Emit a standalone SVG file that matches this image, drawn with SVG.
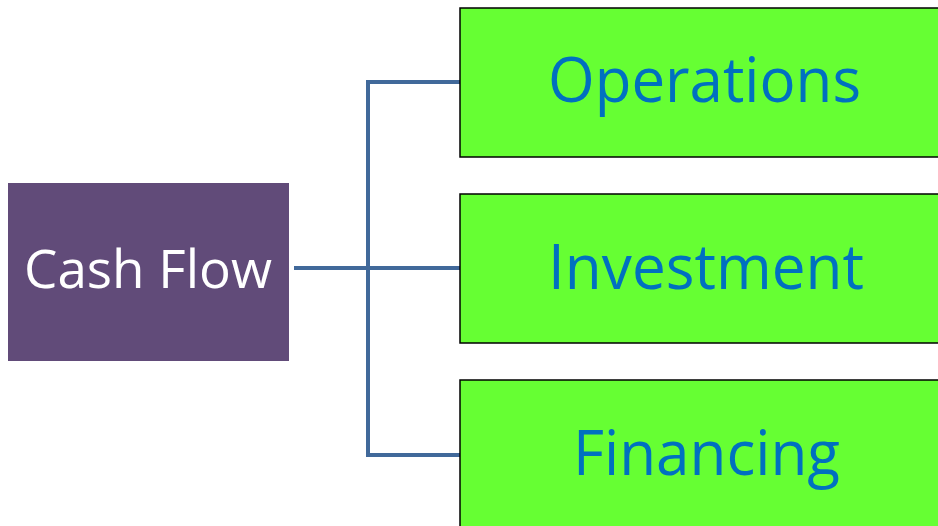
<svg xmlns="http://www.w3.org/2000/svg" width="938" height="526" viewBox="0 0 938 526">
<style>
.conn{fill:none;stroke:#41699A;stroke-width:4;stroke-linejoin:miter}
.green{fill:#66FF33;stroke:#000;stroke-width:1.5}
.gt{font-family:"Open Sans","Noto Sans",sans-serif;font-size:62px;fill:#0070C0}
.wt{font-family:"Open Sans","Noto Sans",sans-serif;font-size:53px;fill:#FFFFFF}
</style>
<rect width="938" height="526" fill="#FFFFFF"/>
<g id="connectors">
<path class="conn" d="M294 268H461"/>
<path class="conn" d="M461 82H368V455H461"/>
</g>
<g id="cashflow">
<rect x="8" y="183" width="281" height="178" fill="#614B79"/>
<text class="wt" x="24" y="288" textLength="248" lengthAdjust="spacingAndGlyphs">Cash Flow</text>
</g>
<g id="operations">
<rect class="green" x="460" y="8" width="490" height="149"/>
<text class="gt" x="548" y="102" textLength="313" lengthAdjust="spacingAndGlyphs">Operations</text>
</g>
<g id="investment">
<rect class="green" x="460" y="194" width="490" height="149"/>
<text class="gt" x="548" y="289" textLength="316" lengthAdjust="spacingAndGlyphs">Investment</text>
</g>
<g id="financing">
<rect class="green" x="460" y="380" width="490" height="160"/>
<text class="gt" x="573" y="475" textLength="267" lengthAdjust="spacingAndGlyphs">Financing</text>
</g>
</svg>
